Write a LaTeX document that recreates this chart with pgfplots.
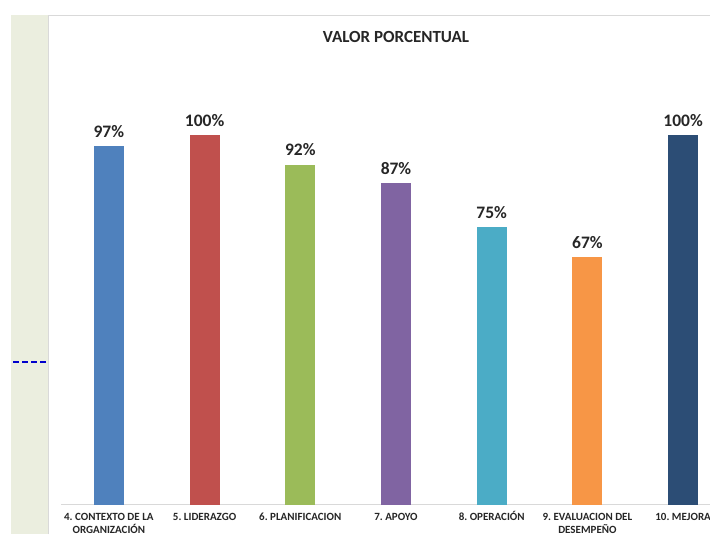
\documentclass[border=0pt]{standalone}
\usepackage{fontspec}
\setmainfont{Carlito}
\usepackage{pgfplots}
\pgfplotsset{compat=1.18}
\frenchspacing
\definecolor{c1}{HTML}{4F81BD}
\definecolor{c2}{HTML}{C0504D}
\definecolor{c3}{HTML}{9BBB59}
\definecolor{c4}{HTML}{8064A2}
\definecolor{c5}{HTML}{4BACC6}
\definecolor{c6}{HTML}{F79646}
\definecolor{c7}{HTML}{2C4D75}
\definecolor{strip}{HTML}{EBEEDF}
\definecolor{border}{HTML}{D9D9D9}
\newcommand{\vp}{\vphantom{Ó}}
\begin{document}
\begin{tikzpicture}[x=1pt,y=1pt]
\useasboundingbox (0,0) rectangle (710,536);
\clip (0,0) rectangle (710,536);
\fill[white] (0,0) rectangle (710,536);
\fill[strip] (11,2) rectangle (48,521);
\draw[border, line width=1pt] (48.5,2) -- (48.5,520) -- (712,520);
\draw[blue!80!black, line width=1.5pt, dash pattern=on 6pt off 3pt] (13,174) -- (48,174);
\node[font=\bfseries\fontsize{17}{20}\selectfont, text=black!85] at (396,499) {VALOR PORCENTUAL};
\begin{axis}[
  at={(61pt,31pt)}, anchor=south west,
  scale only axis, width=670pt, height=444pt,
  xmin=-0.5, xmax=6.5, ymin=0, ymax=120,
  enlargelimits=false,
  hide y axis,
  axis x line=bottom,
  axis line style={-, border, line width=1pt},
  xtick={0,...,6},
  xticklabels={{\vp 4. CONTEXTO DE LA\\ORGANIZACIÓN}, \vp 5. LIDERAZGO, \vp 6. PLANIFICACION, \vp 7. APOYO, \vp 8. OPERACIÓN, {\vp 9. EVALUACION DEL\\DESEMPEÑO}, \vp 10. MEJORA},
  xtick style={draw=none},
  xticklabel style={font=\bfseries\fontsize{11}{13}\selectfont, text=black!85, align=center, anchor=north, yshift=0pt, inner ysep=2pt},
  ybar, bar width=30pt, bar shift=0pt,
  nodes near coords={\pgfmathprintnumber{\pgfplotspointmeta}\%},
  every node near coord/.append style={font=\bfseries\fontsize{17.5}{20}\selectfont, text=black!85, yshift=5pt},
  /pgf/number format/assume math mode=true,
  clip=false,
]
\addplot[fill=c1, draw=none] coordinates {(0,97)};
\addplot[fill=c2, draw=none] coordinates {(1,100)};
\addplot[fill=c3, draw=none] coordinates {(2,92)};
\addplot[fill=c4, draw=none] coordinates {(3,87)};
\addplot[fill=c5, draw=none] coordinates {(4,75)};
\addplot[fill=c6, draw=none] coordinates {(5,67)};
\addplot[fill=c7, draw=none] coordinates {(6,100)};
\end{axis}
\end{tikzpicture}
\end{document}
